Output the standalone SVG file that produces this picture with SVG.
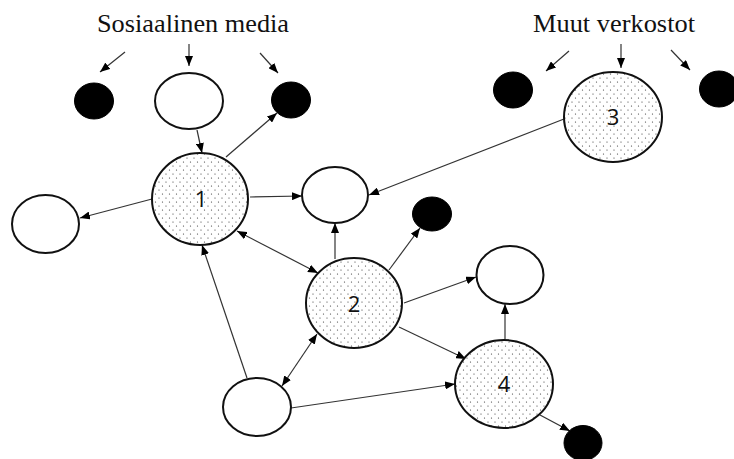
<svg xmlns="http://www.w3.org/2000/svg" width="734" height="459" viewBox="0 0 734 459">
<style>
.w{fill:#fff;stroke:#111;stroke-width:2}
.d{fill:url(#dots);stroke:#111;stroke-width:2}
.b{fill:#000;stroke:#000;stroke-width:1}
.c line{stroke:#333;stroke-width:1.2;marker-end:url(#ah)}
.c line.bi{marker-start:url(#ah)}
.t{font-family:"Liberation Serif","Times New Roman",serif;font-size:26px;fill:#111;text-anchor:middle}
.n{font-family:"Open Sans","Liberation Sans",sans-serif;font-size:22px;fill:#111;text-anchor:middle}
</style>
<defs>
<pattern id="dots" width="7" height="8" patternUnits="userSpaceOnUse">
<rect width="7" height="8" fill="#fff"/>
<circle cx="1.5" cy="2" r="0.6" fill="#333"/>
<circle cx="5" cy="6" r="0.6" fill="#333"/>
</pattern>
<marker id="ah" markerUnits="userSpaceOnUse" markerWidth="10" markerHeight="8" refX="10" refY="4" orient="auto-start-reverse">
<path d="M0,0 L10,4 L0,8 z" fill="#000"/>
</marker>
</defs>
<rect width="734" height="459" fill="#fff"/>
<g id="labels">
<text class="t" x="193" y="32" textLength="192" lengthAdjust="spacingAndGlyphs">Sosiaalinen media</text>
<text class="t" x="614" y="32" textLength="162" lengthAdjust="spacingAndGlyphs">Muut verkostot</text>
</g>
<g class="c" id="connectors">
<line x1="125" y1="52" x2="100" y2="72"/>
<line x1="189" y1="44" x2="189" y2="66"/>
<line x1="260" y1="53" x2="278" y2="73"/>
<line x1="569" y1="51" x2="546" y2="71"/>
<line x1="621" y1="44" x2="621" y2="68"/>
<line x1="671" y1="50" x2="690" y2="70"/>
<line x1="197" y1="130" x2="202" y2="153"/>
<line x1="226" y1="157" x2="277" y2="113"/>
<line x1="152" y1="199" x2="80" y2="218"/>
<line x1="250" y1="197" x2="302" y2="196"/>
<line x1="564" y1="119" x2="369" y2="195"/>
<line class="bi" x1="237" y1="231" x2="318" y2="273"/>
<line x1="335" y1="259" x2="335" y2="223"/>
<line x1="389" y1="270" x2="420" y2="228"/>
<line x1="404" y1="303" x2="476" y2="277"/>
<line x1="399" y1="327" x2="466" y2="359"/>
<line x1="505" y1="339" x2="505" y2="304"/>
<line x1="247" y1="378" x2="202" y2="245"/>
<line class="bi" x1="282" y1="386" x2="317" y2="334"/>
<line x1="291" y1="408" x2="455" y2="384"/>
<line x1="540" y1="415" x2="570" y2="431"/>
</g>
<g id="b1"><ellipse class="b" cx="94" cy="101" rx="19.5" ry="18"/></g>
<g id="w-top"><ellipse class="w" cx="189" cy="101" rx="34" ry="28"/></g>
<g id="b2"><ellipse class="b" cx="291" cy="100" rx="19.5" ry="18"/></g>
<g id="n1"><ellipse class="d" cx="200" cy="199" rx="48" ry="46"/><text class="n" x="201" y="207">1</text></g>
<g id="w-left"><ellipse class="w" cx="45.5" cy="224" rx="33.5" ry="29"/></g>
<g id="w-center"><ellipse class="w" cx="335" cy="195" rx="33" ry="28"/></g>
<g id="b3"><ellipse class="b" cx="513" cy="90" rx="19.5" ry="18"/></g>
<g id="n3"><ellipse class="d" cx="613" cy="117" rx="49" ry="45"/><text class="n" x="613" y="125">3</text></g>
<g id="b4"><ellipse class="b" cx="719" cy="89" rx="19.5" ry="18"/></g>
<g id="b5"><ellipse class="b" cx="432" cy="214" rx="19.5" ry="17"/></g>
<g id="n2"><ellipse class="d" cx="354" cy="303" rx="48" ry="45"/><text class="n" x="354" y="312">2</text></g>
<g id="w-right"><ellipse class="w" cx="510" cy="275" rx="33.5" ry="29"/></g>
<g id="n4"><ellipse class="d" cx="504" cy="384" rx="49" ry="44"/><text class="n" x="504" y="392">4</text></g>
<g id="w-bottom"><ellipse class="w" cx="257" cy="407" rx="34" ry="29"/></g>
<g id="b6"><ellipse class="b" cx="583" cy="443" rx="19" ry="17.5"/></g>
</svg>
